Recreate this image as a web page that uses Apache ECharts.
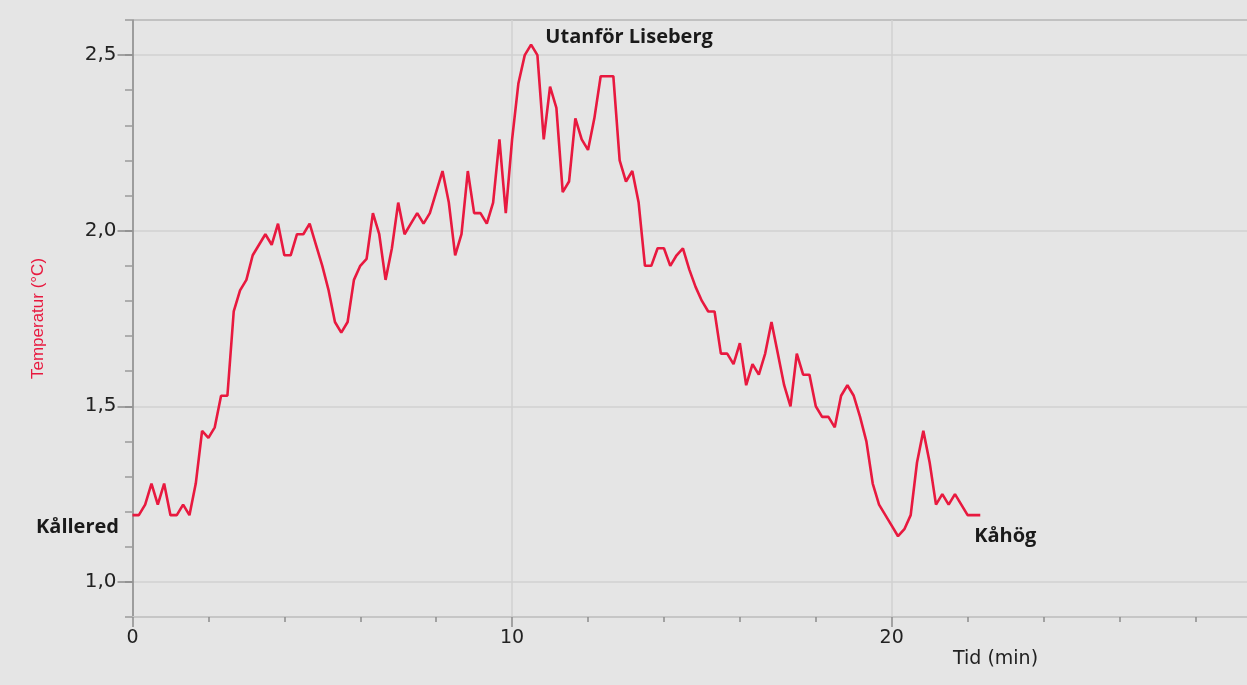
<!DOCTYPE html>
<html>
<head>
<meta charset="utf-8">
<script src="https://cdn.jsdelivr.net/npm/echarts@6/dist/echarts.min.js"></script>
<style>
html,body{margin:0;padding:0;background:#e5e5e5;overflow:hidden;}
#chart{width:1247px;height:685px;}
</style>
</head>
<body>
<div id="chart"></div>
<script>
// Sample times in seconds (one reading every 10 s)
const timeSec = [0,10,20,30,40,50,60,70,80,90,100,110,120,130,140,150,160,170,180,190,
200,210,220,230,240,250,260,270,280,290,300,310,320,330,340,350,360,370,380,390,
400,410,420,430,440,450,460,470,480,490,500,510,520,530,540,550,560,570,580,590,
600,610,620,630,640,650,660,670,680,690,700,710,720,730,740,750,760,770,780,790,
800,810,820,830,840,850,860,870,880,890,900,910,920,930,940,950,960,970,980,990,
1000,1010,1020,1030,1040,1050,1060,1070,1080,1090,1100,1110,1120,1130,1140,1150,1160,1170,1180,1190,
1200,1210,1220,1230,1240,1250,1260,1270,1280,1290,1300,1310,1320,1330,1340];
// Temperature in °C
const temperature = [1.19,1.19,1.22,1.28,1.22,1.28,1.19,1.19,1.22,1.19,
1.28,1.43,1.41,1.44,1.53,1.53,1.77,1.83,1.86,1.93,
1.96,1.99,1.96,2.02,1.93,1.93,1.99,1.99,2.02,1.96,
1.90,1.83,1.74,1.71,1.74,1.86,1.90,1.92,2.05,1.99,
1.86,1.95,2.08,1.99,2.02,2.05,2.02,2.05,2.11,2.17,
2.08,1.93,1.99,2.17,2.05,2.05,2.02,2.08,2.26,2.05,
2.26,2.42,2.50,2.53,2.50,2.26,2.41,2.35,2.11,2.14,
2.32,2.26,2.23,2.32,2.44,2.44,2.44,2.20,2.14,2.17,
2.08,1.90,1.90,1.95,1.95,1.90,1.93,1.95,1.89,1.84,
1.80,1.77,1.77,1.65,1.65,1.62,1.68,1.56,1.62,1.59,
1.65,1.74,1.65,1.56,1.50,1.65,1.59,1.59,1.50,1.47,
1.47,1.44,1.53,1.56,1.53,1.47,1.40,1.28,1.22,1.19,
1.16,1.13,1.15,1.19,1.34,1.43,1.34,1.22,1.25,1.22,
1.25,1.22,1.19,1.19,1.19];
// Place labels: name and the sample index they belong to
const placeNames = ['Kållered','Utanför Liseberg','Kåhög'];
const placeIndex = [0, 63, 134];
const yMajorTicks = [1.0, 1.5, 2.0, 2.5];
const xAxisTitle = 'Tid (min)';
const yAxisTitle = 'Temperatur (°C)';

const labelOffsets = [[-55, 12], [98, -7], [25, 21]];
const RED = '#e8193f';

const seriesData = timeSec.map((s, i) => [s / 60, temperature[i]]);

const chart = echarts.init(document.getElementById('chart'), null, {renderer: 'canvas'});

// y split line colors: one per 0.1 tick from 0.9 to 2.6
const ySplitColors = [];
for (let i = 0; i <= 17; i++) {
  const v = Math.round((0.9 + i * 0.1) * 10);
  if (i === 17) ySplitColors.push('#b4b4b4');
  else if (i > 0 && v % 5 === 0) ySplitColors.push('#d0d0d0');
  else ySplitColors.push('rgba(0,0,0,0)');
}

const option = {
  backgroundColor: '#e5e5e5',
  animation: false,
  grid: {left: 132.5, top: 20, width: 1138.8, height: 597, containLabel: false, outerBoundsMode: 'none'},
  xAxis: {
    type: 'value',
    min: 0, max: 30, interval: 10,
    axisLine: {show: true, onZero: false, lineStyle: {color: '#c6c6c6', width: 2}},
    axisTick: {show: true, length: 10, lineStyle: {color: '#8c8c8c', width: 1.5}},
    minorTick: {show: true, splitNumber: 5, length: 5, lineStyle: {color: '#8c8c8c', width: 1.5}},
    axisLabel: {
      margin: 12, color: '#222', fontFamily: 'DejaVu Sans', fontSize: 19,
      formatter: v => (Math.abs(v % 10) < 1e-6 && v < 30) ? String(v) : ''
    },
    splitLine: {show: true, lineStyle: {color: '#d0d0d0', width: 1.5}},
    minorSplitLine: {show: false}
  },
  yAxis: [{
    type: 'value',
    min: 0.9, max: 2.6, interval: 0.1,
    position: 'left',
    name: yAxisTitle,
    nameLocation: 'middle',
    nameRotate: 90,
    nameGap: 86,
    nameTextStyle: {color: RED, fontFamily: 'Liberation Sans', fontSize: 17},
    axisLine: {show: true, lineStyle: {color: '#8a8a8a', width: 1.5}},
    axisTick: {show: true, length: 7.5, lineStyle: {color: '#9a9a9a', width: 1.5}},
    axisLabel: {
      margin: 16, color: '#222', fontFamily: 'DejaVu Sans', fontSize: 20,
      formatter: v => {
        const r = Math.round(v * 10);
        return r % 5 === 0 ? (r / 10).toFixed(1).replace('.', ',') : '';
      }
    },
    splitLine: {show: true, lineStyle: {color: ySplitColors, width: 1.5}}
  }, {
    type: 'value',
    min: 0.9, max: 2.6,
    position: 'left',
    offset: 0,
    axisLine: {show: false},
    axisTick: {show: true, length: 15, customValues: yMajorTicks, lineStyle: {color: '#8a8a8a', width: 1.5}},
    axisLabel: {show: false},
    splitLine: {show: false}
  }],
  graphic: [{
    type: 'text',
    left: 953, top: 650,
    style: {text: xAxisTitle, fill: '#222', font: '19px "DejaVu Sans"'}
  }],
  series: [{
    type: 'line',
    yAxisIndex: 0,
    data: seriesData,
    showSymbol: false,
    symbol: 'none',
    lineStyle: {color: RED, width: 2.6},
    itemStyle: {color: RED},
    markPoint: {
      symbol: 'circle',
      symbolSize: 1,
      itemStyle: {color: 'rgba(0,0,0,0)'},
      data: placeNames.map((n, j) => ({
        name: n,
        coord: seriesData[placeIndex[j]],
        label: {
          show: true, formatter: n, position: 'inside', offset: labelOffsets[j],
          color: '#1a1a1a', fontFamily: 'Open Sans', fontWeight: 'bold', fontSize: 20
        }
      }))
    }
  }]
};
chart.setOption(option);
</script>
</body>
</html>
